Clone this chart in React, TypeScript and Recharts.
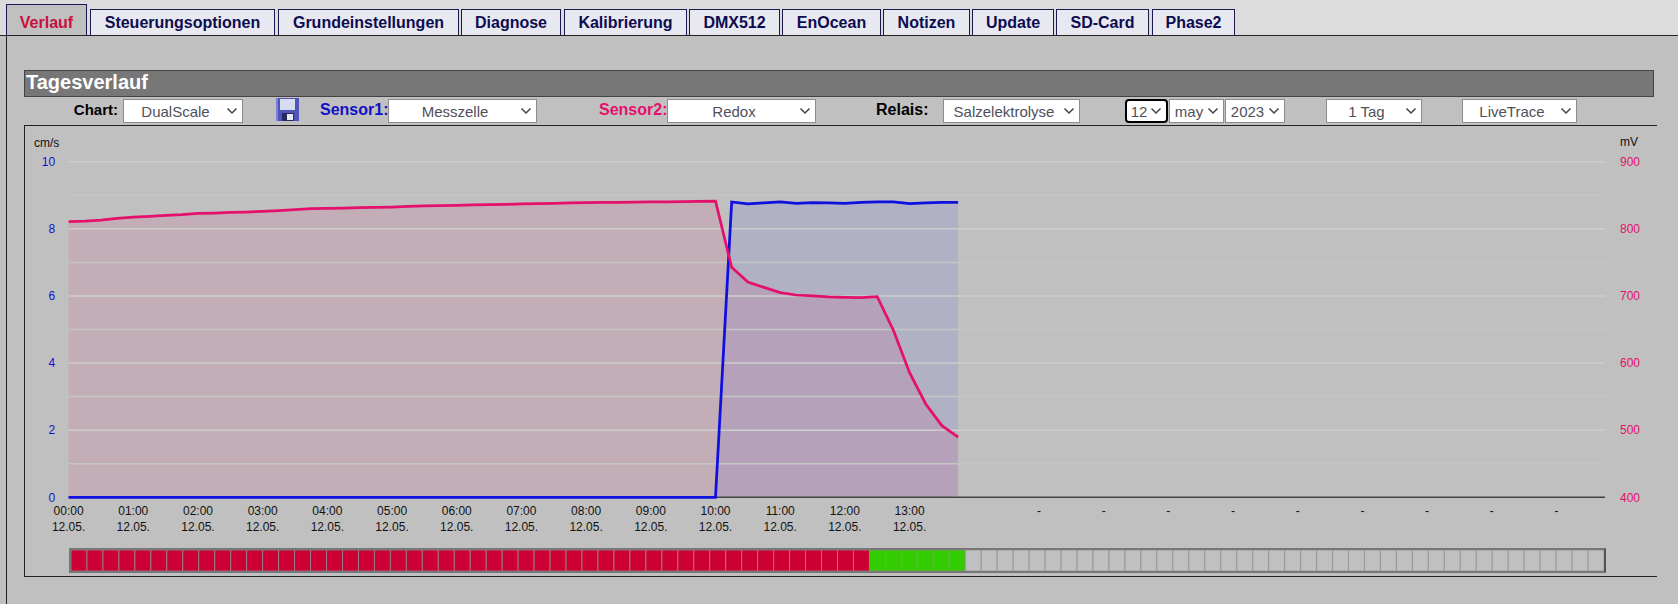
import React from 'react';
import { ComposedChart, BarChart, Bar, Cell, Area, Line, XAxis, YAxis, ReferenceLine } from 'recharts';

const tabLabels = ['Verlauf', 'Steuerungsoptionen', 'Grundeinstellungen', 'Diagnose', 'Kalibrierung', 'DMX512', 'EnOcean', 'Notizen', 'Update', 'SD-Card', 'Phase2'];
const tabEdges = [[6, 87], [90, 275], [278, 459], [461, 561], [564, 687], [689, 780], [782, 881], [883, 970], [972, 1054], [1056, 1149], [1152, 1235]];

const hourLabels = ['00:00', '01:00', '02:00', '03:00', '04:00', '05:00', '06:00', '07:00', '08:00', '09:00', '10:00', '11:00', '12:00', '13:00', '', '-', '-', '-', '-', '-', '-', '-', '-', '-'];
const dateLabels = ['12.05.', '12.05.', '12.05.', '12.05.', '12.05.', '12.05.', '12.05.', '12.05.', '12.05.', '12.05.', '12.05.', '12.05.', '12.05.', '12.05.', '', '', '', '', '', '', '', '', '', ''];

const sensor1Values = [
  0, 0, 0, 0, 0, 0, 0, 0, 0, 0, 0, 0, 0, 0, 0, 0, 0, 0, 0, 0,
  0, 0, 0, 0, 0, 0, 0, 0, 0, 0, 0, 0, 0, 0, 0, 0, 0, 0, 0, 0,
  0, 8.8, 8.74, 8.77, 8.8, 8.76, 8.78, 8.77, 8.76, 8.79, 8.8, 8.8, 8.75, 8.77, 8.79, 8.79,
];
const sensor2Values = [
  810.6, 811.5, 813, 815.5, 817.5, 818.5, 820, 821, 823, 823.5,
  824.5, 825, 826, 827, 828.5, 830, 830.5, 831, 831.5, 832,
  832.5, 833.5, 834, 834.5, 835, 835.5, 836, 836.5, 837, 837.5,
  838, 838.5, 839, 839.3, 839.5, 839.8, 840, 840, 840.5, 841,
  841.4, 742.6, 720.8, 712.8, 704.9, 701.4, 700, 698.5, 698, 697.4,
  698.9, 649, 585.7, 539, 506.7, 489.8,
];
const leftTicks = [0, 2, 4, 6, 8, 10];
const rightTicks = [400, 500, 600, 700, 800, 900];
const minorGrid = [1, 3, 5, 7, 9];
const majorGrid = [2, 4, 6, 8, 10];

const relayStates = [
  'r', 'r', 'r', 'r', 'r', 'r', 'r', 'r', 'r', 'r', 'r', 'r', 'r', 'r', 'r', 'r', 'r', 'r', 'r', 'r', 'r', 'r', 'r', 'r', 'r',
  'r', 'r', 'r', 'r', 'r', 'r', 'r', 'r', 'r', 'r', 'r', 'r', 'r', 'r', 'r', 'r', 'r', 'r', 'r', 'r', 'r', 'r', 'r', 'r', 'r',
  'g', 'g', 'g', 'g', 'g', 'g',
  'n', 'n', 'n', 'n', 'n', 'n', 'n', 'n', 'n', 'n', 'n', 'n', 'n', 'n', 'n', 'n', 'n', 'n', 'n', 'n',
  'n', 'n', 'n', 'n', 'n', 'n', 'n', 'n', 'n', 'n', 'n', 'n', 'n', 'n', 'n', 'n', 'n', 'n', 'n', 'n',
];
const relayColors: Record<string, string> = { r: '#cc0033', g: '#33cc00', n: '#c0c0c0' };

const chartData = sensor1Values.map((s1, i) => ({ slot: i, s1, s2: sensor2Values[i] }));
const relayData = relayStates.map((state, i) => ({ slot: i, state, on: 1 }));
const xTicks = hourLabels.map((_, i) => i * 4);

const font = 'Arial, "Liberation Sans", sans-serif';
const BLUE = '#0f0fe0';
const PINK = '#e4106c';
const chevron = "url(\"data:image/svg+xml,%3Csvg xmlns='http://www.w3.org/2000/svg' width='12' height='8'%3E%3Cpath d='M1.5 1.5 L6 6 L10.5 1.5' fill='none' stroke='%23444' stroke-width='1.5'/%3E%3C/svg%3E\")";

function TimeTick({ x, y, payload }: any) {
  const i = payload.value / 4;
  return (
    <text x={x} textAnchor="middle" fontFamily={font} fontSize={12} fill="#111">
      <tspan x={x} y={y + 10}>{hourLabels[i]}</tspan>
      <tspan x={x} y={y + 26}>{dateLabels[i]}</tspan>
    </text>
  );
}

function Box({ l, t, w, h, style, children }: any) {
  return <div style={{ position: 'absolute', left: l, top: t, width: w, height: h, boxSizing: 'border-box', ...style }}>{children}</div>;
}

function Label({ r, l, color, size, children }: any) {
  const pos = r !== undefined ? { right: 1678 - r } : { left: l };
  return <div style={{ position: 'absolute', top: 101, ...pos, fontFamily: font, fontSize: size || 16, fontWeight: 700, color: color || '#000', whiteSpace: 'nowrap' }}>{children}</div>;
}

function Sel({ l, r, value, focus }: any) {
  return (
    <select
      defaultValue={value}
      style={{
        position: 'absolute', left: l, top: 99, width: r - l, height: 24, boxSizing: 'border-box',
        appearance: 'none', WebkitAppearance: 'none',
        backgroundColor: '#fff', backgroundImage: chevron, backgroundRepeat: 'no-repeat', backgroundPosition: 'right 4px center',
        color: '#50505a', fontFamily: font, fontSize: 15, textAlign: 'center', textAlignLast: 'center',
        border: focus ? '2px solid #000' : '1px solid #8c8c8c', borderRadius: focus ? 4 : 0, padding: '0 15px 0 0', margin: 0,
      }}
    >
      <option value={value}>{value}</option>
    </select>
  );
}

export default function App() {
  return (
    <div style={{ position: 'absolute', left: 0, top: 0, width: 1678, height: 604, overflow: 'hidden', background: '#c0c0c0', fontFamily: font }}>
      <Box l={0} t={0} w={1678} h={36} style={{ background: '#dcdcdc', borderBottom: '1px solid #222' }} />
      <Box l={6} t={35} w={1} h={569} style={{ background: '#222' }} />
      {tabLabels.map((label, i) => {
        const active = i === 0;
        const [a, b] = tabEdges[i];
        return (
          <Box key={label} l={a} t={active ? 4 : 9} w={b - a} h={active ? 31 : 26}
            style={{
              background: active ? '#c0c0c0' : '#e8e8f0', border: '1px solid #1a1a50', borderBottom: 'none',
              display: 'flex', alignItems: 'center', justifyContent: 'center', paddingTop: active ? 5 : 0,
              fontSize: 16, fontWeight: 700, color: active ? '#c8103c' : '#0c0c50', whiteSpace: 'nowrap',
            }}>
            {label}
          </Box>
        );
      })}

      <Box l={24} t={70} w={1630} h={27} style={{ background: '#777', border: '1px solid #444', color: '#fff', fontSize: 20, fontWeight: 700, paddingLeft: 1, lineHeight: '22px' }}>
        Tagesverlauf
      </Box>

      <Label r={118} size={15}>Chart:</Label>
      <Sel l={123} r={243} value="DualScale" />
      <svg style={{ position: 'absolute', left: 276, top: 98 }} width={23} height={23}>
        <rect x={0} y={0} width={23} height={23} fill="#5055b8" />
        <rect x={0} y={0} width={2} height={23} fill="#7a80e0" />
        <rect x={4} y={1} width={15} height={11} fill="#d8dcf0" />
        <rect x={6} y={15} width={12} height={8} fill="#2a2a60" />
        <rect x={11} y={16} width={6} height={6} fill="#e8e8f0" />
      </svg>
      <Label l={320} color="#1010c8">Sensor1:</Label>
      <Sel l={388} r={537} value="Messzelle" />
      <Label l={599} color={PINK}>Sensor2:</Label>
      <Sel l={667} r={816} value="Redox" />
      <Label l={876}>Relais:</Label>
      <Sel l={943} r={1080} value="Salzelektrolyse" />
      <Sel l={1125} r={1168} value="12" focus />
      <Sel l={1169} r={1224} value="may" />
      <Sel l={1225} r={1285} value="2023" />
      <Sel l={1326} r={1422} value="1 Tag" />
      <Sel l={1462} r={1577} value="LiveTrace" />

      <Box l={24} t={125} w={1633} h={1} style={{ background: '#222' }} />
      <Box l={24} t={125} w={1} h={451} style={{ background: '#222' }} />
      <Box l={24} t={576} w={1633} h={1} style={{ background: '#222' }} />

      <div style={{ position: 'absolute', left: 34, top: 136, fontSize: 12, color: '#111' }}>cm/s</div>
      <div style={{ position: 'absolute', left: 1620, top: 135, fontSize: 12, color: '#111' }}>mV</div>

      <div style={{ position: 'absolute', left: 24, top: 126 }}>
        <ComposedChart width={1634} height={450} data={chartData} margin={{ top: 35.7, right: 0, bottom: 28.7, left: 0 }}>
          <XAxis dataKey="slot" type="number" domain={[0, 95]} ticks={xTicks} interval={0} height={50}
            tick={<TimeTick />} tickLine={false} axisLine={false} allowDecimals={false} />
          <YAxis yAxisId="left" orientation="left" width={44.6} domain={[0, 10]} ticks={leftTicks} interval={0}
            tickLine={false} axisLine={false} tickSize={0} tickMargin={13.5}
            tick={{ fill: '#1010d0', fontSize: 12, fontFamily: font }} />
          <YAxis yAxisId="right" orientation="right" width={53} domain={[400, 900]} ticks={rightTicks} interval={0}
            tickLine={false} axisLine={false} tickSize={0} tickMargin={15}
            tick={{ fill: PINK, fontSize: 12, fontFamily: font }} />
          {minorGrid.map((v) => <ReferenceLine key={'m' + v} yAxisId="left" y={v} stroke="#c5c5c5" strokeWidth={1.5} />)}
          {majorGrid.map((v) => <ReferenceLine key={'M' + v} yAxisId="left" y={v} stroke="#cdcdcd" strokeWidth={1.5} />)}
          <ReferenceLine yAxisId="left" y={0} stroke="#444" strokeWidth={1.5} />
          <Area yAxisId="left" dataKey="s1" type="linear" stroke="none" fill="#0000ff" fillOpacity={0.08} isAnimationActive={false} />
          <Area yAxisId="right" dataKey="s2" type="linear" stroke="none" fill={PINK} fillOpacity={0.1} isAnimationActive={false} />
          <Line yAxisId="left" dataKey="s1" type="linear" stroke={BLUE} strokeWidth={2.75} dot={false} isAnimationActive={false} />
          <Line yAxisId="right" dataKey="s2" type="linear" stroke={PINK} strokeWidth={2.75} dot={false} isAnimationActive={false} />
        </ComposedChart>
      </div>

      <Box l={69} t={548} w={1537} h={25} style={{ border: '2px solid #777', borderRightColor: '#555' }}>
        <BarChart width={1533} height={21} data={relayData} barCategoryGap={0} margin={{ top: 0, right: 0, bottom: 0, left: 0 }}>
          <XAxis dataKey="slot" hide />
          <YAxis hide domain={[0, 1]} />
          <Bar dataKey="on" stroke="#8f8f8f" strokeWidth={0.8} isAnimationActive={false}>
            {relayData.map((d) => <Cell key={d.slot} fill={relayColors[d.state]} />)}
          </Bar>
        </BarChart>
      </Box>
    </div>
  );
}
